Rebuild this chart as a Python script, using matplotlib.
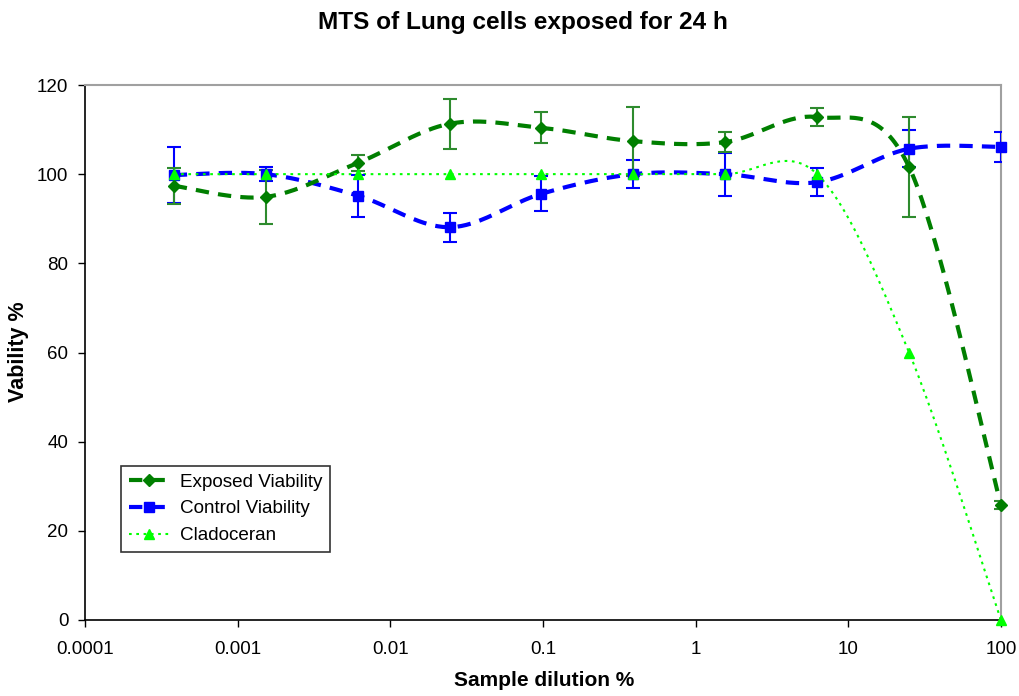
import numpy as np
import matplotlib
matplotlib.use("Agg")
import matplotlib.pyplot as plt
from matplotlib.lines import Line2D

plt.rcParams['font.family'] = ['Liberation Sans', 'DejaVu Sans']

# ---- data ----
dilution = [0.00038147, 0.00152588, 0.00610352, 0.0244141, 0.0976563,
            0.390625, 1.5625, 6.25, 25, 100]
exposed = [97.4, 94.9, 102.5, 111.3, 110.4, 107.4, 107.2, 112.8, 101.6, 25.8]
exposed_err = [4.0, 6.0, 1.9, 5.6, 3.5, 7.7, 2.3, 2.0, 11.2, 0.8]
control = [99.8, 100.0, 95.2, 88.1, 95.6, 100.0, 100.0, 98.2, 105.7, 106.1]
control_err = [6.2, 1.5, 4.7, 3.3, 3.9, 3.2, 4.8, 3.2, 4.1, 3.3]
cladoceran = [100, 100, 100, 100, 100, 100, 100, 100, 60, 0]

title = "MTS of Lung cells exposed for 24 h"
xlabel = "Sample dilution %"
ylabel = "Vability %"
xticks = [0.0001, 0.001, 0.01, 0.1, 1, 10, 100]
xticklabels = ["0.0001", "0.001", "0.01", "0.1", "1", "10", "100"]
yticks = [0, 20, 40, 60, 80, 100, 120]
labels = ["Exposed Viability", "Control Viability", "Cladoceran"]


def smooth(xs, ys, n=40):
    """Excel-style smoothed line (uniform Catmull-Rom in log-x / y space)."""
    lx = np.log10(np.asarray(xs, float))
    y = np.asarray(ys, float)
    P = np.column_stack([lx, y])
    P = np.vstack([P[0], P, P[-1]])
    out = []
    t = np.linspace(0, 1, n)[:, None]
    for i in range(1, len(P) - 2):
        p0, p1, p2, p3 = P[i - 1], P[i], P[i + 1], P[i + 2]
        c1 = p1 + (p2 - p0) / 6.0
        c2 = p2 - (p3 - p1) / 6.0
        seg = ((1 - t) ** 3) * p1 + 3 * ((1 - t) ** 2) * t * c1 + 3 * (1 - t) * t ** 2 * c2 + t ** 3 * p2
        out.append(seg if i == 1 else seg[1:])
    out = np.vstack(out)
    return 10 ** out[:, 0], out[:, 1]


fig = plt.figure(figsize=(10.2, 6.96), dpi=100)
ax = fig.add_axes([85 / 1020, 1 - 620 / 696, (1001 - 85) / 1020, (620 - 85) / 696])

c_exp = "#007F00"
c_exp_err = "#2E8B2E"
c_ctl = "#0000FF"
c_cla = "#00FF00"
dash = (0, (3.2, 2.2))
dot = (0, (1.3, 2.2))

# control
sx, sy = smooth(dilution, control)
ax.plot(sx, sy, color=c_ctl, lw=3, ls=dash, zorder=3)
ax.errorbar(dilution, control, yerr=control_err, fmt="none", ecolor=c_ctl,
            elinewidth=1.5, capsize=5, capthick=1.5, zorder=4)
ax.plot(dilution, control, ls="none", marker="s", ms=6.5, color=c_ctl, zorder=5,
        clip_on=False)

# exposed
sx, sy = smooth(dilution, exposed)
ax.plot(sx, sy, color=c_exp, lw=3, ls=dash, zorder=3)
ax.errorbar(dilution, exposed, yerr=exposed_err, fmt="none", ecolor=c_exp_err,
            elinewidth=1.5, capsize=5, capthick=1.5, zorder=4)
ax.plot(dilution, exposed, ls="none", marker="D", ms=6.3, color=c_exp, zorder=5,
        clip_on=False)

# cladoceran
sx, sy = smooth(dilution, cladoceran)
ax.plot(sx, sy, color=c_cla, lw=1.5, ls=dot, zorder=3)
ax.plot(dilution, cladoceran, ls="none", marker="^", ms=7, color=c_cla, zorder=6,
        clip_on=False)

ax.set_xscale("log")
ax.set_xlim(0.0001, 100)
ax.set_ylim(0, 120)
ax.set_xticks(xticks)
ax.set_xticklabels(xticklabels)
ax.xaxis.set_minor_locator(matplotlib.ticker.NullLocator())
ax.set_yticks(yticks)
ax.tick_params(axis="both", direction="out", length=5, width=1, labelsize=13.5,
               colors="black")
ax.tick_params(axis="x", pad=10)
ax.tick_params(axis="y", pad=7)

for s in ["top", "right"]:
    ax.spines[s].set_color("#A0A0A0")
    ax.spines[s].set_linewidth(1.5)
for s in ["left", "bottom"]:
    ax.spines[s].set_color("black")
    ax.spines[s].set_linewidth(1.2)

fig.text(523 / 1020, 1 - 22 / 696, title, fontsize=17.6, fontweight="bold",
         ha="center", va="center")
fig.text(544 / 1020, 1 - 681 / 696, xlabel, fontsize=15, fontweight="bold",
         ha="center", va="center")
fig.text(18.5 / 1020, 1 - 352 / 696, ylabel, fontsize=15.5, fontweight="bold",
         ha="center", va="center", rotation=90)

handles = [
    Line2D([], [], color=c_exp, lw=3, ls=dash, marker="D", ms=6.3),
    Line2D([], [], color=c_ctl, lw=3, ls=dash, marker="s", ms=6.5),
    Line2D([], [], color=c_cla, lw=1.5, ls=dot, marker="^", ms=7),
]
leg = ax.legend(handles, labels,
                loc="upper left", bbox_to_anchor=((121 - 85) / 916, (620 - 466) / 535),
                fontsize=13.6, frameon=True, fancybox=False, edgecolor="black",
                handlelength=2.2, borderpad=0.4, labelspacing=0.5, handletextpad=0.5,
                borderaxespad=0)
leg.get_frame().set_linewidth(1.2)

fig.savefig("out.png", dpi=100, facecolor="white")
